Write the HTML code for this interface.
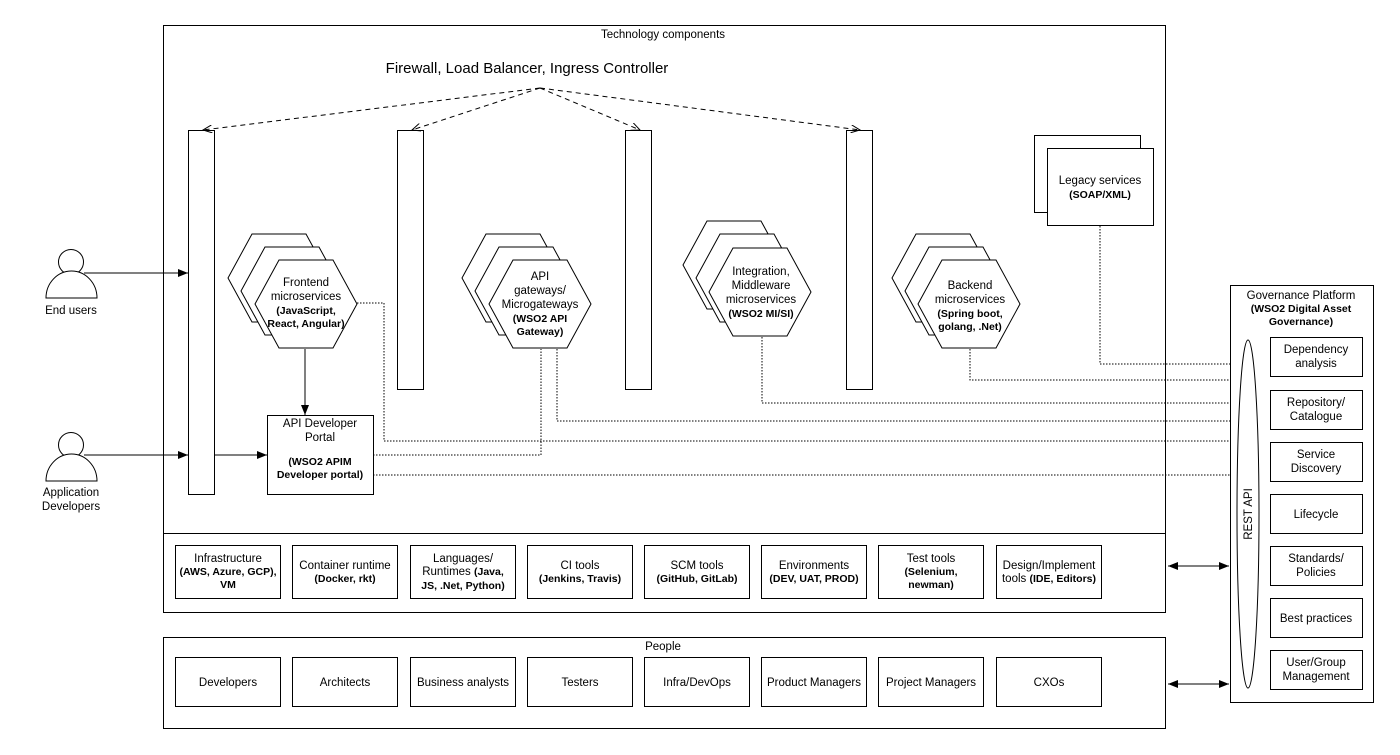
<!DOCTYPE html>
<html><head><meta charset="utf-8"><style>
body{margin:0;background:#fff}
svg{display:block;font-family:"Liberation Sans",sans-serif}
</style></head><body>
<svg width="1400" height="755" viewBox="0 0 1400 755" xmlns="http://www.w3.org/2000/svg">
<defs>
<marker id="a" markerWidth="10" markerHeight="8" refX="10" refY="4" orient="auto" markerUnits="userSpaceOnUse"><path d="M0,0 L10,4 L0,8 z" fill="#000"/></marker>
<marker id="ao" markerWidth="10" markerHeight="8" refX="9" refY="4" orient="auto" markerUnits="userSpaceOnUse"><path d="M0,0 L9,4 L0,8" fill="none" stroke="#000"/></marker>
<marker id="as" markerWidth="10" markerHeight="8" refX="0" refY="4" orient="auto" markerUnits="userSpaceOnUse"><path d="M10,0 L0,4 L10,8 z" fill="#000"/></marker>
</defs>
<g fill="none" stroke="#000" stroke-width="1">
<rect x="163.5" y="25.5" width="1002" height="587"/>
<line x1="163" y1="533.5" x2="1165" y2="533.5"/>
<rect x="163.5" y="637.5" width="1002" height="91"/>
<!-- bars -->
<rect x="188.5" y="130.5" width="26" height="364" fill="#fff"/>
<rect x="397.5" y="130.5" width="26" height="259" fill="#fff"/>
<rect x="625.5" y="130.5" width="26" height="259" fill="#fff"/>
<rect x="846.5" y="130.5" width="26" height="259" fill="#fff"/>
<!-- dashed -->
<g stroke-dasharray="5,4">
<line x1="540" y1="88" x2="203" y2="130" marker-end="url(#ao)"/>
<line x1="540" y1="88" x2="412" y2="130" marker-end="url(#ao)"/>
<line x1="540" y1="88" x2="640" y2="130" marker-end="url(#ao)"/>
<line x1="540" y1="88" x2="860" y2="130" marker-end="url(#ao)"/>
</g>
<!-- legacy -->
<rect x="1034.5" y="135.5" width="106" height="77" fill="#fff"/>
<rect x="1047.5" y="148.5" width="106" height="77" fill="#fff"/>
<!-- dotted lines -->
<g stroke-dasharray="1.5,1.5">
<polyline points="1100,226 1100,364 1230,364"/>
<polyline points="970,349 970,380 1230,380"/>
<polyline points="762,337 762,403 1230,403"/>
<polyline points="557,349 557,421 1230,421"/>
<polyline points="357,303 384,303 384,441 1230,441"/>
<polyline points="373,455 541,455 541,349"/>
<line x1="373" y1="475" x2="1230" y2="475"/>
</g>
<!-- person icons -->
<circle cx="71" cy="262" r="12.5" fill="#fff"/>
<path d="M46,298 A25.5,27 0 0 1 97,298 Z" fill="#fff"/>
<circle cx="71" cy="445" r="12.5" fill="#fff"/>
<path d="M46,481 A25.5,27 0 0 1 97,481 Z" fill="#fff"/>
<line x1="84" y1="273" x2="188" y2="273" marker-end="url(#a)"/>
<line x1="84" y1="455" x2="188" y2="455" marker-end="url(#a)"/>
<line x1="215" y1="455" x2="267" y2="455" marker-end="url(#a)"/>
<line x1="305" y1="349" x2="305" y2="415" marker-end="url(#a)"/>
<rect x="267.5" y="415.5" width="106" height="79" fill="#fff"/>
<!-- governance -->
<rect x="1230.5" y="285.5" width="143" height="417" fill="#fff"/>
<ellipse cx="1248" cy="514" rx="11" ry="174"/>
<rect x="1270.5" y="337.5" width="92" height="39"/>
<rect x="1270.5" y="390.5" width="92" height="39"/>
<rect x="1270.5" y="442.5" width="92" height="39"/>
<rect x="1270.5" y="494.5" width="92" height="39"/>
<rect x="1270.5" y="546.5" width="92" height="39"/>
<rect x="1270.5" y="598.5" width="92" height="39"/>
<rect x="1270.5" y="650.5" width="92" height="39"/>
<line x1="1168" y1="566" x2="1229" y2="566" marker-start="url(#as)" marker-end="url(#a)"/>
<line x1="1168" y1="684" x2="1229" y2="684" marker-start="url(#as)" marker-end="url(#a)"/>
<!-- tool boxes -->
<g>
<rect x="175.5" y="545.5" width="105" height="53"/><rect x="292.5" y="545.5" width="105" height="53"/>
<rect x="410.5" y="545.5" width="105" height="53"/><rect x="527.5" y="545.5" width="105" height="53"/>
<rect x="644.5" y="545.5" width="105" height="53"/><rect x="761.5" y="545.5" width="105" height="53"/>
<rect x="878.5" y="545.5" width="105" height="53"/><rect x="996.5" y="545.5" width="105" height="53"/>
<rect x="175.5" y="657.5" width="105" height="49"/><rect x="292.5" y="657.5" width="105" height="49"/>
<rect x="410.5" y="657.5" width="105" height="49"/><rect x="527.5" y="657.5" width="105" height="49"/>
<rect x="644.5" y="657.5" width="105" height="49"/><rect x="761.5" y="657.5" width="105" height="49"/>
<rect x="878.5" y="657.5" width="105" height="49"/><rect x="996.5" y="657.5" width="105" height="49"/>
</g>
<!-- hexagons: w104 h89 -->
<g fill="#fff">
<g transform="translate(228,234)"><path d="M0,44 L24,0 L78,0 L102,44 L78,88 L24,88 Z"/></g>
<g transform="translate(241,247)"><path d="M0,44 L24,0 L78,0 L102,44 L78,88 L24,88 Z"/></g>
<g transform="translate(255,260)"><path d="M0,44 L24,0 L78,0 L102,44 L78,88 L24,88 Z"/></g>
<g transform="translate(462,234)"><path d="M0,44 L24,0 L78,0 L102,44 L78,88 L24,88 Z"/></g>
<g transform="translate(475,247)"><path d="M0,44 L24,0 L78,0 L102,44 L78,88 L24,88 Z"/></g>
<g transform="translate(489,260)"><path d="M0,44 L24,0 L78,0 L102,44 L78,88 L24,88 Z"/></g>
<g transform="translate(683,221)"><path d="M0,44 L24,0 L78,0 L102,44 L78,88 L24,88 Z"/></g>
<g transform="translate(696,234)"><path d="M0,44 L24,0 L78,0 L102,44 L78,88 L24,88 Z"/></g>
<g transform="translate(709,248)"><path d="M0,44 L24,0 L78,0 L102,44 L78,88 L24,88 Z"/></g>
<g transform="translate(892,234)"><path d="M0,44 L24,0 L78,0 L102,44 L78,88 L24,88 Z"/></g>
<g transform="translate(905,247)"><path d="M0,44 L24,0 L78,0 L102,44 L78,88 L24,88 Z"/></g>
<g transform="translate(918,260)"><path d="M0,44 L24,0 L78,0 L102,44 L78,88 L24,88 Z"/></g>
</g>
</g>
<g font-size="11.5" text-anchor="middle" fill="#000">
<text x="663" y="38">Technology components</text>
<text x="527" y="73" font-size="15">Firewall, Load Balancer, Ingress Controller</text>
<text x="1100" y="184">Legacy services</text>
<text x="1100" y="198" font-weight="bold" font-size="10.5">(SOAP/XML)</text>
<text x="71" y="314">End users</text>
<text x="71" y="496">Application</text><text x="71" y="510">Developers</text>
<text x="320" y="427">API Developer</text><text x="320" y="441">Portal</text>
<text x="320" y="465" font-weight="bold" font-size="10.5">(WSO2 APIM</text><text x="320" y="478" font-weight="bold" font-size="10.5">Developer portal)</text>
<text x="306" y="286">Frontend</text><text x="306" y="300">microservices</text>
<text x="306" y="314" font-weight="bold" font-size="10.5">(JavaScript,</text><text x="306" y="327" font-weight="bold" font-size="10.5">React, Angular)</text>
<text x="540" y="280">API</text><text x="540" y="294">gateways/</text><text x="540" y="308">Microgateways</text>
<text x="540" y="322" font-weight="bold" font-size="10.5">(WSO2 API</text><text x="540" y="335" font-weight="bold" font-size="10.5">Gateway)</text>
<text x="761" y="275">Integration,</text><text x="761" y="289">Middleware</text><text x="761" y="303">microservices</text>
<text x="761" y="317" font-weight="bold" font-size="10.5">(WSO2 MI/SI)</text>
<text x="970" y="289">Backend</text><text x="970" y="303">microservices</text>
<text x="970" y="317" font-weight="bold" font-size="10.5">(Spring boot,</text><text x="970" y="330" font-weight="bold" font-size="10.5">golang, .Net)</text>
<text x="1301" y="299">Governance Platform</text>
<text x="1301" y="312" font-weight="bold" font-size="10.5">(WSO2 Digital Asset</text><text x="1301" y="325" font-weight="bold" font-size="10.5">Governance)</text>
<text transform="translate(1252,514) rotate(-90)">REST API</text>
<text x="1316" y="353">Dependency</text><text x="1316" y="367">analysis</text>
<text x="1316" y="406">Repository/</text><text x="1316" y="420">Catalogue</text>
<text x="1316" y="458">Service</text><text x="1316" y="472">Discovery</text>
<text x="1316" y="518">Lifecycle</text>
<text x="1316" y="562">Standards/</text><text x="1316" y="576">Policies</text>
<text x="1316" y="622">Best practices</text>
<text x="1316" y="666">User/Group</text><text x="1316" y="680">Management</text>
<text x="228" y="562">Infrastructure</text><text x="228" y="575" font-weight="bold" font-size="10.5">(AWS, Azure, GCP),</text><text x="228" y="588" font-weight="bold" font-size="10.5">VM</text>
<text x="345" y="569">Container runtime</text><text x="345" y="582" font-weight="bold" font-size="10.5">(Docker, rkt)</text>
<text x="463" y="562">Languages/</text><text x="463" y="575">Runtimes <tspan font-weight="bold" font-size="10.5">(Java,</tspan></text><text x="463" y="589" font-weight="bold" font-size="10.5">JS, .Net, Python)</text>
<text x="580" y="569">CI tools</text><text x="580" y="582" font-weight="bold" font-size="10.5">(Jenkins, Travis)</text>
<text x="697" y="569">SCM tools</text><text x="697" y="582" font-weight="bold" font-size="10.5">(GitHub, GitLab)</text>
<text x="814" y="569">Environments</text><text x="814" y="582" font-weight="bold" font-size="10.5">(DEV, UAT, PROD)</text>
<text x="931" y="562">Test tools</text><text x="931" y="575" font-weight="bold" font-size="10.5">(Selenium,</text><text x="931" y="588" font-weight="bold" font-size="10.5">newman)</text>
<text x="1049" y="569">Design/Implement</text><text x="1049" y="582">tools <tspan font-weight="bold" font-size="10.5">(IDE, Editors)</tspan></text>
<text x="663" y="650">People</text>
<text x="228" y="686">Developers</text><text x="345" y="686">Architects</text>
<text x="463" y="686">Business analysts</text><text x="580" y="686">Testers</text>
<text x="697" y="686">Infra/DevOps</text><text x="814" y="686">Product Managers</text>
<text x="931" y="686">Project Managers</text><text x="1049" y="686">CXOs</text>
</g>
</svg>
</body></html>
